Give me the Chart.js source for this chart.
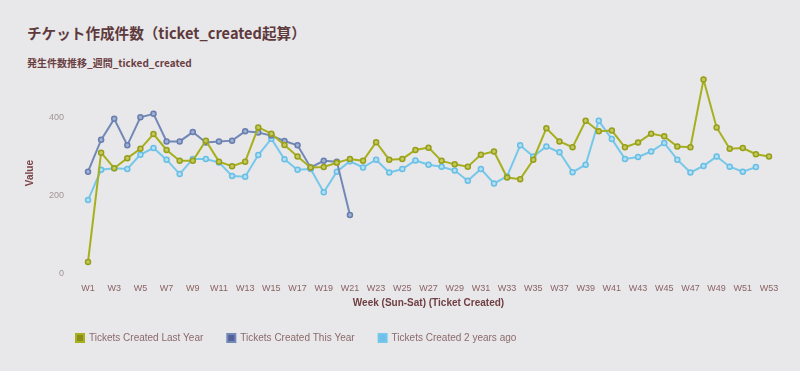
<!DOCTYPE html>
<html>
<head>
<meta charset="utf-8">
<script src="https://cdn.jsdelivr.net/npm/chart.js@4/dist/chart.umd.min.js"></script>
<style>
  html, body { margin: 0; padding: 0; }
  body { width: 800px; height: 371px; background: #e8e7e9; overflow: hidden; position: relative; }
  #title { position: absolute; left: 27px; top: 22px; font: bold 14.6px "Noto Sans CJK JP", "Liberation Sans", sans-serif; color: #5e3a3c; white-space: nowrap; }
  #subtitle { position: absolute; left: 27px; top: 55px; font: bold 10px "Noto Sans CJK JP", "Liberation Sans", sans-serif; color: #6a3f42; white-space: nowrap; }
  #wrap { position: absolute; left: 0; top: 0; width: 800px; height: 371px; }
</style>
</head>
<body>
<div id="title">チケット作成件数（ticket_created起算）</div>
<div id="subtitle">発生件数推移_週間_ticked_created</div>
<div id="wrap"><canvas id="cardGraph"></canvas></div>
<script>
var weeks = ['W1','W2','W3','W4','W5','W6','W7','W8','W9','W10','W11','W12','W13','W14','W15','W16','W17','W18','W19','W20',
    'W21','W22','W23','W24','W25','W26','W27','W28','W29','W30','W31','W32','W33','W34','W35','W36','W37','W38','W39','W40',
    'W41','W42','W43','W44','W45','W46','W47','W48','W49','W50','W51','W52','W53'];

var lastYear = [29, 310, 270, 296, 320, 358, 317, 289, 289, 341, 287, 275, 287, 375, 359, 330, 300, 272, 273, 284,
    294, 289, 337, 292, 294, 317, 323, 289, 280, 274, 305, 313, 246, 242, 292, 373, 339, 324, 392, 365,
    367, 324, 336, 359, 352, 326, 324, 498, 375, 320, 322, 306, 300];

var thisYear = [261, 343, 397, 329, 401, 410, 339, 339, 363, 336, 339, 341, 365, 362, 354, 340, 329, 272, 289, 287,
    150];

var twoYearsAgo = [188, 266, 270, 268, 305, 322, 292, 255, 294, 294, 285, 250, 248, 304, 346, 293, 266, 268, 208, 261,
    288, 272, 292, 259, 268, 290, 279, 274, 264, 238, 268, 231, 249, 329, 300, 326, 311, 260, 279, 392,
    345, 294, 299, 313, 335, 292, 259, 276, 300, 274, 261, 273, null];

var yTicks = [0, 200, 400];

// push the legend row to the right, like the reference
var legendShift = {
    id: 'legendShift',
    afterLayout: function(chart) {
        chart.legend.left += 32;
    }
};

var ctx = document.getElementById('cardGraph').getContext('2d');
var myChart = new Chart(ctx, {
    type: 'line',
    plugins: [legendShift],
    data: {
        labels: weeks,
        datasets: [{
            label: 'Tickets Created Last Year',
            data: lastYear,
            fill: false,
            borderColor: 'rgb(166, 176, 30)',
            backgroundColor: 'rgb(140, 142, 24)',
            pointBackgroundColor: 'rgb(196, 202, 90)',
            pointBorderColor: 'rgb(150, 158, 28)',
            borderWidth: 2,
            pointRadius: 2.5,
            pointBorderWidth: 1.5,
            tension: 0
        }, {
            label: 'Tickets Created This Year',
            data: thisYear,
            fill: false,
            borderColor: 'rgb(114, 136, 182)',
            backgroundColor: 'rgb(84, 96, 156)',
            pointBackgroundColor: 'rgb(160, 176, 210)',
            pointBorderColor: 'rgb(104, 126, 176)',
            borderWidth: 2,
            pointRadius: 2.5,
            pointBorderWidth: 1.5,
            tension: 0
        }, {
            label: 'Tickets Created 2 years ago',
            data: twoYearsAgo,
            fill: false,
            borderColor: 'rgb(118, 200, 234)',
            backgroundColor: 'rgb(112, 190, 236)',
            pointBackgroundColor: 'rgb(176, 224, 244)',
            pointBorderColor: 'rgb(104, 190, 228)',
            borderWidth: 2,
            pointRadius: 2.5,
            pointBorderWidth: 1.5,
            tension: 0
        }]
    },
    options: {
        responsive: true,
        maintainAspectRatio: false,
        animation: false,
        layout: { padding: { left: 20, right: 31, top: 73, bottom: 18 } },
        plugins: {
            legend: {
                position: 'bottom',
                align: 'start',
                labels: {
                    boxWidth: 8,
                    boxHeight: 8,
                    padding: 24,
                    color: '#8c6a6c',
                    font: { family: '"Liberation Sans", Arial, sans-serif', size: 10 }
                }
            },
            tooltip: { enabled: false }
        },
        scales: {
            x: {
                grid: { display: false, drawTicks: false },
                border: { display: false },
                ticks: {
                    autoSkip: false,
                    maxRotation: 0,
                    padding: 10,
                    color: '#8a6466',
                    font: { family: '"Liberation Sans", Arial, sans-serif', size: 9 },
                    callback: function(val, i) {
                        return i % 2 === 0 ? this.getLabelForValue(val) : '';
                    }
                },
                title: {
                    display: true,
                    text: 'Week (Sun-Sat) (Ticket Created)',
                    color: '#6e3e42',
                    padding: { top: -7, bottom: 0 },
                    font: { family: '"Liberation Sans", Arial, sans-serif', size: 10, weight: 'bold' }
                }
            },
            y: {
                min: 0,
                max: 515,
                grid: { display: false, drawTicks: false },
                border: { display: false },
                afterBuildTicks: function(scale) {
                    scale.ticks = yTicks.map(function(v) { return { value: v }; });
                },
                ticks: {
                    padding: 24,
                    color: '#a39496',
                    font: { family: '"Liberation Sans", Arial, sans-serif', size: 9 }
                },
                title: {
                    display: true,
                    text: 'Value',
                    color: '#7a4448',
                    padding: { top: 4, bottom: -11 },
                    font: { family: '"Liberation Sans", Arial, sans-serif', size: 10, weight: 'bold' }
                }
            }
        }
    }
});
</script>
</body>
</html>
